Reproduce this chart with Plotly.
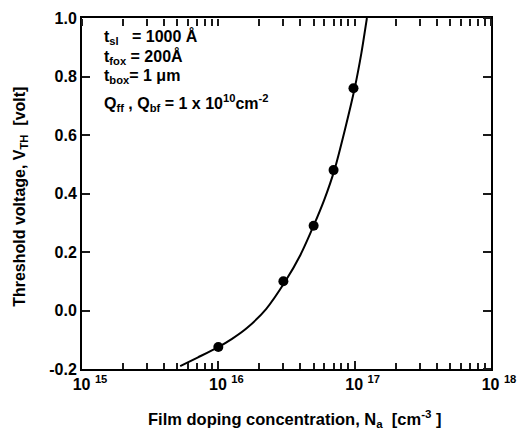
import plotly.graph_objects as go

# Data
curve_na = [5.25e15, 7.1e15, 1.0e16, 1.26e16, 1.62e16, 2.24e16, 3.1e16, 4.0e16,
            5.0e16, 6.0e16, 7.1e16, 8.5e16, 1.0e17, 1.12e17, 1.23e17]
curve_vth = [-0.19, -0.16, -0.125, -0.097, -0.060, 0.005, 0.10, 0.19,
             0.29, 0.38, 0.48, 0.62, 0.76, 0.88, 1.0]

point_na = [1.0e16, 3.0e16, 5.0e16, 7.0e16, 9.8e16]
point_vth = [-0.125, 0.10, 0.29, 0.48, 0.76]

x_tickvals = [1e15, 1e16, 1e17, 1e18]
x_ticktext = ["10 <sup>15</sup>", "10 <sup>16</sup>", "10 <sup>17</sup>", "10 <sup>18</sup>"]
x_minor = [m * 10 ** e for e in (15, 16, 17) for m in range(2, 10)]
y_tickvals = [-0.2, 0.0, 0.2, 0.4, 0.6, 0.8, 1.0]
y_ticktext = ["-0.2", "0.0", "0.2", "0.4", "0.6", "0.8", "1.0"]

info_lines = [
    "t<sub>sl</sub>   = 1000 Å",
    "t<sub>fox</sub> = 200Å",
    "t<sub>box</sub>= 1 μm",
    "Q<sub>ff</sub> , Q<sub>bf</sub> = 1 x 10<sup>10</sup>cm<sup>-2</sup>",
]
info_y = [0.947, 0.888, 0.833, 0.758]

FONT = "Liberation Sans, Arial, sans-serif"
XR = [15, 18]
YR = [-0.2, 1.0]
TICKC = "#1a1a1a"

fig = go.Figure()
fig.add_trace(go.Scatter(x=curve_na, y=curve_vth, mode="lines",
                         line=dict(color="black", width=2, shape="spline", smoothing=0.6),
                         showlegend=False, hoverinfo="skip"))
fig.add_trace(go.Scatter(x=point_na, y=point_vth, mode="markers", xaxis="x2", yaxis="y2",
                         marker=dict(color="black", size=10),
                         showlegend=False))

fig.update_layout(
    width=528, height=439,
    margin=dict(l=82, r=37, t=10, b=70),
    paper_bgcolor="white", plot_bgcolor="rgba(0,0,0,0)",
    font=dict(family=FONT, size=14, color="black"),
    xaxis=dict(type="log", range=XR, tickmode="array",
               tickvals=x_tickvals, ticktext=x_ticktext,
               ticks="inside", ticklen=8, tickwidth=2, tickcolor=TICKC,
               showline=True, linewidth=2, linecolor="black", mirror=True,
               showgrid=False, zeroline=False, ticklabelshift=8,
               minor=dict(tickvals=x_minor, ticks="inside", ticklen=6, tickwidth=2,
                          tickcolor=TICKC, showgrid=False),
               tickfont=dict(size=16, family=FONT, weight="bold")),
    yaxis=dict(range=YR, tickmode="array", tickvals=y_tickvals, ticktext=y_ticktext,
               ticks="inside", ticklen=8, tickwidth=2, tickcolor=TICKC,
               showline=True, linewidth=2, linecolor="black", mirror=True,
               showgrid=False, zeroline=False,
               tickfont=dict(size=16, family=FONT, weight="bold")),
    # tick-only axes on the top and right edges, ticks pointing into the plot
    xaxis2=dict(type="log", range=XR, overlaying="x", anchor="free", position=1, side="bottom",
                tickvals=x_tickvals + x_minor, ticks="outside", ticklen=7, tickwidth=2,
                tickcolor=TICKC, showticklabels=False, showgrid=False, zeroline=False),
    yaxis2=dict(range=YR, overlaying="y", anchor="free", position=1, side="left",
                tickvals=y_tickvals, ticks="outside", ticklen=8, tickwidth=2,
                tickcolor=TICKC, showticklabels=False, showgrid=False, zeroline=False),
)

fig.add_annotation(text="Film doping concentration, N<sub>a</sub>  [cm<sup>-3</sup> ]",
                   xref="paper", yref="paper", x=0.52, y=-0.142,
                   xanchor="center", yanchor="middle", showarrow=False,
                   font=dict(size=16.5, family=FONT, weight="bold"))
fig.add_annotation(text="Threshold voltage, V<sub>TH</sub>  [volt]",
                   xref="paper", yref="paper", x=-0.152, y=0.49, textangle=-90,
                   xanchor="center", yanchor="middle", showarrow=False,
                   font=dict(size=16, family=FONT, weight="bold"))
for txt, yy in zip(info_lines, info_y):
    fig.add_annotation(text=txt, xref="paper", yref="paper", x=0.05, y=yy,
                       xanchor="left", yanchor="middle", showarrow=False,
                       font=dict(size=16, family=FONT, weight="bold"))

fig.write_html("out.html")
